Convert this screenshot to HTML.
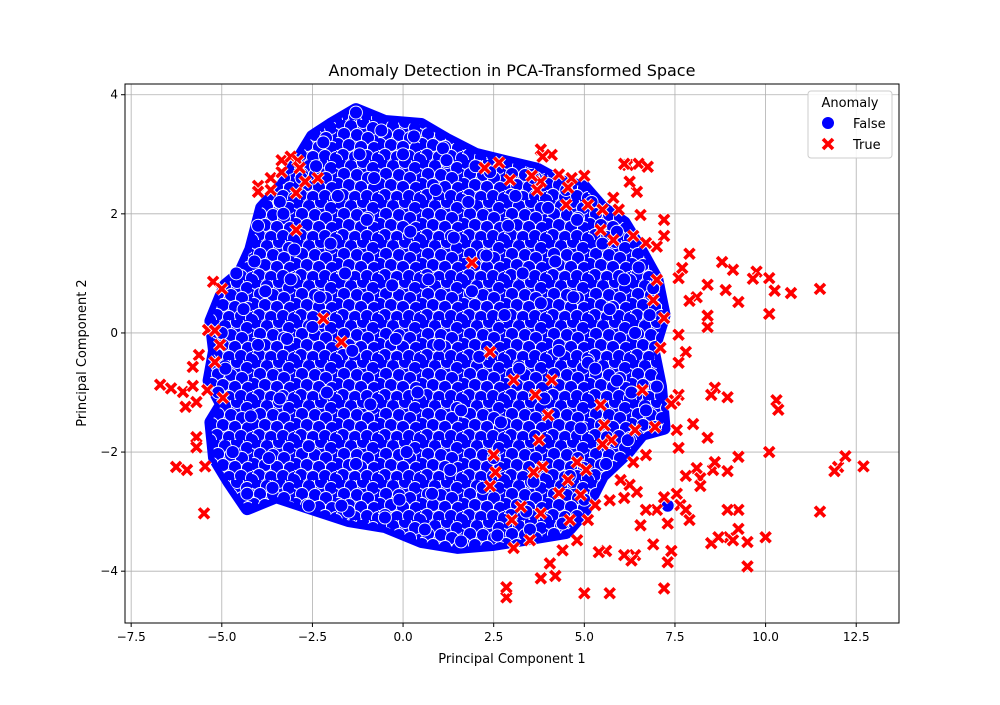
<!DOCTYPE html>
<html><head><meta charset="utf-8"><style>
body{margin:0;background:#fff;font-family:"Liberation Sans","DejaVu Sans",sans-serif}
svg text{font-family:"DejaVu Sans","Liberation Sans",sans-serif}
</style></head><body>
<svg id="chart" width="1000" height="700" xmlns="http://www.w3.org/2000/svg">
<defs>
<pattern id="tex" patternUnits="userSpaceOnUse" width="42" height="40">
<rect width="42" height="40" fill="#0000ff"/>
<g fill="#0000ff" stroke="#fff" stroke-width="0.9">
<circle cx="4" cy="3" r="6.5"/><circle cx="15" cy="6" r="6.5"/><circle cx="27" cy="2" r="6.5"/><circle cx="37" cy="8" r="6.5"/>
<circle cx="8" cy="14" r="6.5"/><circle cx="21" cy="15" r="6.5"/><circle cx="32" cy="18" r="6.5"/><circle cx="2" cy="24" r="6.5"/>
<circle cx="13" cy="25" r="6.5"/><circle cx="25" cy="27" r="6.5"/><circle cx="38" cy="28" r="6.5"/><circle cx="7" cy="35" r="6.5"/>
<circle cx="19" cy="37" r="6.5"/><circle cx="31" cy="36" r="6.5"/><circle cx="42" cy="38" r="6.5"/><circle cx="0" cy="40" r="6.5"/>
</g>
</pattern>
</defs>
<rect width="1000" height="700" fill="#fff"/>
<text x="512" y="76" font-size="16" text-anchor="middle">Anomaly Detection in PCA-Transformed Space</text>
<g id="grid"></g>
<g id="blob"></g>
<g id="pts"></g>
<g id="axes"></g>
<text x="512" y="663" font-size="13" text-anchor="middle">Principal Component 1</text>
<text transform="translate(86,353) rotate(-90)" font-size="13" text-anchor="middle">Principal Component 2</text>
<g>
<rect x="808" y="91" width="84" height="67" rx="3" fill="#fff" fill-opacity="0.85" stroke="#ccc"/>
<text x="850" y="107" font-size="13" text-anchor="middle">Anomaly</text>
<circle cx="828" cy="123" r="6.5" fill="#0000ff" stroke="#fff"/>
<text x="853" y="128" font-size="13">False</text>
<path d="M823,139L833,149M833,139L823,149" stroke="#ff0000" stroke-width="3.6"/>
<text x="853" y="149" font-size="13">True</text>
</g>
</svg>
<script>
const xTicks=[-7.5,-5,-2.5,0,2.5,5,7.5,10,12.5];
const xTickLabels=["−7.5","−5.0","−2.5","0.0","2.5","5.0","7.5","10.0","12.5"];
const yTicks=[-4,-2,0,2,4];
const yTickLabels=["−4","−2","0","2","4"];
const blobOutline=[[-1.3,3.75],[-0.5,3.55],[0.5,3.5],[1.2,3.25],[2,3.0],[3,2.85],[3.7,2.75],[4.3,2.55],[5,2.45],[5.5,2.1],[6.1,1.85],[6.5,1.45],[7.0,0.9],[7.2,0.3],[6.9,-0.3],[7.1,-0.9],[7.2,-1.6],[6.6,-1.7],[6.2,-2.0],[5.5,-2.4],[5.0,-3.0],[4.5,-3.35],[3.5,-3.45],[2.5,-3.55],[1.5,-3.6],[0.5,-3.5],[-0.5,-3.25],[-1.5,-3.15],[-2.5,-2.95],[-3.5,-2.75],[-4.3,-2.95],[-4.8,-2.5],[-5.2,-2.1],[-5.3,-1.5],[-5.0,-1.2],[-5.35,-0.8],[-5.2,-0.3],[-5.3,0.2],[-4.9,0.8],[-4.5,1.0],[-4.2,1.4],[-3.9,2.1],[-3.3,2.5],[-2.5,3.3],[-2.0,3.5]];
const normalX=[-1.3,-0.6,0.3,1.1,2.0,-2.2,-2.8,-3.4,-4.0,-4.6,-5.0,-5.1,-4.7,-4.3,-3.6,-2.6,-1.5,-0.5,0.6,1.6,2.6,3.5,4.4,5.0,5.6,6.2,6.7,7.0,6.8,6.5,5.9,5.2,4.5,3.6,2.4,1.2,0.0,-1.2,-2.4,-3.3,-4.1,3.1,4.0,4.8,5.5,6.1,-3.0,-1.8,-0.8,0.9,1.8,2.9,-2.0,-1.0,0.2,1.4,2.3,3.3,4.2,-4.4,-3.8,-3.1,-2.3,-1.6,-0.3,0.7,1.9,2.8,3.8,4.7,5.7,6.4,-4.9,-4.0,-3.2,-2.5,-1.4,-0.2,1.0,2.1,3.2,4.3,5.1,5.9,-4.2,-3.4,-2.1,-0.9,0.4,1.6,2.7,3.9,4.9,-3.7,-2.6,-1.3,0.1,1.3,2.5,3.6,4.6,-0.1,0.8,-1.7,2.2,3.4,7.3,6.9,6.3,5.3];
const normalY=[3.7,3.4,3.3,3.1,2.8,3.2,2.6,2.2,1.8,1.0,0.0,-1.0,-2.0,-2.7,-2.6,-2.9,-3.0,-3.1,-3.3,-3.5,-3.4,-3.3,-3.2,-2.8,-2.2,-1.8,-1.3,-0.9,0.3,1.1,1.7,2.2,2.4,2.6,2.7,2.9,3.0,3.0,2.8,2.0,1.2,2.3,2.1,1.9,1.5,0.9,1.4,2.3,2.6,2.4,2.2,1.8,1.5,1.9,1.7,1.6,1.3,1.0,1.2,0.4,0.7,0.9,0.6,1.0,0.8,0.9,0.7,0.3,0.5,0.6,0.4,0.0,-0.6,-0.2,-0.1,0.1,-0.3,-0.1,-0.2,-0.4,-0.6,-0.3,-0.5,-0.8,-1.4,-1.1,-1.0,-1.2,-1.0,-1.3,-1.5,-1.1,-1.6,-2.1,-1.9,-2.2,-2.0,-2.3,-2.1,-2.5,-2.4,-2.8,-2.7,-2.9,-2.6,-3.0,-2.9,0.75,-1.0,-0.6,-1.5];
const anomX=[11.5,10.7,10.1,10.25,10.1,9.75,9.65,9.25,9.1,8.9,8.8,8.4,8.1,8.4,8.4,7.9,7.7,7.6,7.9,7.8,7.6,7.6,7.2,7.2,7.0,7.0,6.9,7.2,7.1,8.95,8.6,8.5,8.0,8.4,10.3,10.35,7.6,7.5,7.4,7.55,10.0,11.5,12.0,11.9,12.2,12.7,10.1,9.25,8.95,8.55,8.6,8.1,8.2,8.2,7.8,7.6,7.55,7.65,7.9,7.8,7.2,7.3,7.4,7.3,7.2,6.9,9.0,9.1,9.5,9.25,9.25,8.95,8.5,8.7,9.5,7.0,6.7,6.55,6.4,6.3,6.1,5.6,5.4,5.0,5.7,6.45,6.1,6.25,6.0,5.7,5.3,5.1,4.9,4.6,4.8,4.4,4.2,3.8,4.05,3.5,3.05,2.85,2.85,3.0,3.25,3.8,3.85,3.6,2.55,2.4,2.5,5.75,5.5,5.45,5.55,6.4,6.6,6.7,6.35,6.95,6.2,6.1,6.5,6.75,6.45,6.25,5.8,5.5,5.95,6.55,6.35,6.7,5.8,5.1,4.65,4.55,4.5,4.3,5.0,5.45,4.1,3.8,3.85,3.8,3.7,3.55,2.65,2.95,2.25,1.9,2.4,3.05,3.65,4.0,4.1,3.75,4.3,4.55,4.8,5.05,-4.0,-4.0,-3.65,-3.65,-3.35,-3.35,-3.1,-2.9,-2.85,-2.95,-2.7,-2.95,-2.35,-2.2,-1.7,-6.7,-6.4,-6.07,-5.8,-5.4,-6.0,-5.7,-4.97,-5.24,-5.0,-5.38,-5.19,-5.05,-5.63,-5.8,-5.19,-5.7,-5.7,-6.26,-5.96,-5.46,-5.49];
const anomY=[0.74,0.67,0.92,0.71,0.32,1.03,0.91,0.52,1.06,0.72,1.19,0.81,0.6,0.1,0.29,1.33,1.09,0.92,0.54,-0.32,-0.03,-0.5,1.63,1.9,1.45,0.89,0.55,0.25,-0.25,-1.08,-0.92,-1.04,-1.53,-1.76,-1.13,-1.29,-1.04,-1.13,-1.19,-1.63,-3.43,-3.0,-2.25,-2.32,-2.07,-2.24,-2.0,-2.08,-2.32,-2.3,-2.17,-2.27,-2.44,-2.57,-2.4,-1.93,-2.7,-2.89,-3.14,-2.97,-2.76,-3.2,-3.66,-3.85,-4.29,-3.55,-3.43,-3.48,-3.51,-2.97,-3.29,-2.97,-3.53,-3.43,-3.92,-2.97,-2.97,-3.23,-3.73,-3.82,-3.73,-3.66,-3.68,-4.37,-4.37,-2.67,-2.77,-2.55,-2.47,-2.81,-2.89,-3.14,-2.72,-3.14,-3.48,-3.65,-4.08,-4.12,-3.87,-3.48,-3.61,-4.44,-4.27,-3.14,-2.92,-3.03,-2.25,-2.34,-2.34,-2.57,-2.05,-1.8,-1.87,-1.21,-1.55,-1.63,-0.96,-2.05,-2.17,-1.58,2.82,2.84,2.84,2.79,2.37,2.54,2.27,2.07,2.07,1.98,1.63,1.51,1.56,2.15,2.6,2.44,2.15,2.66,2.64,1.73,2.99,3.08,2.96,2.54,2.4,2.64,2.86,2.57,2.77,1.18,-0.32,-0.79,-1.04,-1.38,-0.79,-1.8,-2.69,-2.47,-2.17,-2.3,2.47,2.37,2.6,2.4,2.7,2.9,2.96,2.89,2.77,2.35,2.54,1.73,2.6,0.24,-0.15,-0.87,-0.93,-0.99,-0.89,-0.96,-1.24,-1.16,-1.09,0.86,0.74,0.05,0.04,-0.2,-0.37,-0.57,-0.49,-1.75,-1.92,-2.25,-2.3,-2.24,-3.03];

const NS="http://www.w3.org/2000/svg";
const L=125,R=899,T=84,B=623,xmin=-7.67,xmax=13.68,ymin=-4.87,ymax=4.18;
const sx=v=>L+(v-xmin)/(xmax-xmin)*(R-L);
const sy=v=>B-(v-ymin)/(ymax-ymin)*(B-T);
function mk(tag,attrs,parent){const e=document.createElementNS(NS,tag);for(const k in attrs)e.setAttribute(k,attrs[k]);parent.appendChild(e);return e;}
const grid=document.getElementById('grid'),axes=document.getElementById('axes'),blob=document.getElementById('blob'),pts=document.getElementById('pts');
xTicks.forEach((t,i)=>{
 const g=mk('line',{x1:sx(t),x2:sx(t),y1:T,y2:B,stroke:'#b0b0b0','stroke-width':0.8},grid);
 
 
 mk('line',{x1:sx(t),x2:sx(t),y1:B,y2:B+4,stroke:'#000'},axes);
 const tx=mk('text',{x:sx(t),y:B+18,'font-size':12,'text-anchor':'middle'},axes);tx.textContent=xTickLabels[i];
 
 
});
yTicks.forEach((t,i)=>{
 const g=mk('line',{x1:L,x2:R,y1:sy(t),y2:sy(t),stroke:'#b0b0b0','stroke-width':0.8},grid);
 
 
 mk('line',{x1:L-4,x2:L,y1:sy(t),y2:sy(t),stroke:'#000'},axes);
 const tx=mk('text',{x:L-7,y:sy(t)+4,'font-size':12,'text-anchor':'end'},axes);tx.textContent=yTickLabels[i];
 
 
});
const fr=mk('rect',{x:L,y:T,width:R-L,height:B-T,fill:'none',stroke:'#000','stroke-width':1},axes);


const blobPts=blobOutline.map(p=>sx(p[0])+','+sy(p[1])).join(' ');
mk('polygon',{points:blobPts,fill:'#0000ff',stroke:'#0000ff','stroke-width':13,'stroke-linejoin':'round'},blob);
const poly=mk('polygon',{points:blobPts,fill:'url(#tex)',stroke:'none'},blob);


normalX.forEach((x,i)=>{
 const c=mk('circle',{cx:sx(x),cy:sy(normalY[i]),r:6.5,fill:'#0000ff',stroke:'#fff','stroke-width':0.9},pts);
 
 
});
anomX.forEach((x,i)=>{
 const cx=sx(x),cy=sy(anomY[i]),s=5;
 const d=`M${cx-s},${cy-s}L${cx+s},${cy+s}M${cx+s},${cy-s}L${cx-s},${cy+s}`;
 mk('path',{d:d,stroke:'#fff','stroke-width':5.4},pts);
 const p=mk('path',{d:d,stroke:'#ff0000','stroke-width':3.6},pts);
 
 
});
</script>
</body></html>
